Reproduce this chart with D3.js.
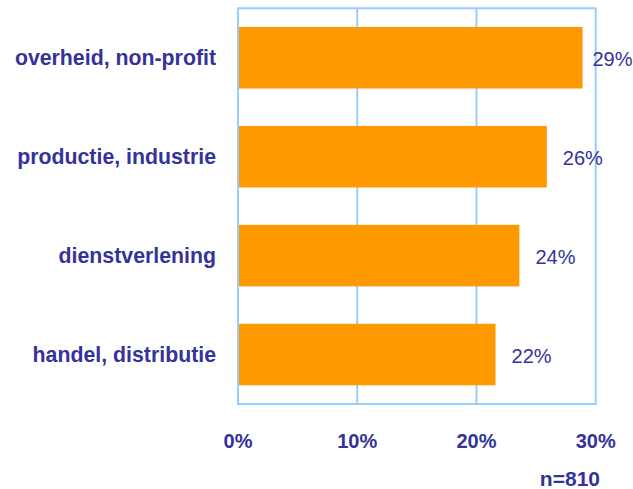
<!DOCTYPE html>
<html><head><meta charset="utf-8">
<script src="https://cdn.jsdelivr.net/npm/d3@7"></script>
<style>body{margin:0;background:#fff}svg{display:block}</style>
</head><body>
<script>
const categories = ["overheid, non-profit", "productie, industrie", "dienstverlening", "handel, distributie"];
const values = [28.9, 25.9, 23.6, 21.6];
const valueLabels = ["29%", "26%", "24%", "22%"];
const tickValues = [0, 10, 20, 30];
const tickLabels = ["0%", "10%", "20%", "30%"];
const note = "n=810";

const W = 633, H = 489;
const TEXT = "#333399", BAR = "#FF9900", FRAME = "#99CCFF";
const FONT = "'Liberation Sans', Arial, sans-serif";

const svg = d3.select("body").append("svg").attr("width", W).attr("height", H)
  .style("font-family", FONT);

const x = d3.scaleLinear().domain([0, 30]).range([238, 595.7]);
const y = d3.scaleBand().domain(categories).range([8.3, 404]).paddingInner(0.378).paddingOuter(0.189);

// gridlines
svg.append("g").selectAll("line").data(tickValues.slice(1, -1)).join("line")
  .attr("x1", d => x(d)).attr("x2", d => x(d))
  .attr("y1", y.range()[0]).attr("y2", y.range()[1])
  .attr("stroke", FRAME).attr("stroke-width", 2);

// bars
svg.append("g").selectAll("rect").data(values).join("rect")
  .attr("x", x(0)).attr("y", (d, i) => y(categories[i]))
  .attr("width", d => x(d) - x(0)).attr("height", y.bandwidth())
  .attr("fill", BAR);

// frame
svg.append("rect").attr("x", x(0)).attr("y", y.range()[0])
  .attr("width", x(30) - x(0)).attr("height", y.range()[1] - y.range()[0])
  .attr("fill", "none").attr("stroke", FRAME).attr("stroke-width", 2);

// value labels
svg.append("g").selectAll("text").data(values).join("text")
  .attr("font-size", 20).attr("fill", TEXT)
  .attr("y", (d, i) => y(categories[i]) + y.bandwidth() / 2 + 8)
  .text((d, i) => valueLabels[i])
  .each(function(d) {
    const w = this.getComputedTextLength();
    let px = x(d) + 16;
    if (px + w > W) px = W - w - 0.5;
    d3.select(this).attr("x", px);
  });

// category labels
svg.append("g").selectAll("text").data(categories).join("text")
  .attr("x", 216).attr("y", d => y(d) + y.bandwidth() / 2 + 7.7)
  .attr("text-anchor", "end").attr("font-size", 21.3).attr("font-weight", "bold")
  .attr("fill", TEXT).text(d => d);

// x tick labels
svg.append("g").selectAll("text").data(tickValues).join("text")
  .attr("x", d => x(d)).attr("y", 448.3)
  .attr("text-anchor", "middle").attr("font-size", 20).attr("font-weight", "bold")
  .attr("fill", TEXT).text((d, i) => tickLabels[i]);

// note
svg.append("text").attr("x", 600).attr("y", 485.5).attr("text-anchor", "end")
  .attr("font-size", 21).attr("font-weight", "bold").attr("fill", TEXT).text(note);
</script>
</body></html>
